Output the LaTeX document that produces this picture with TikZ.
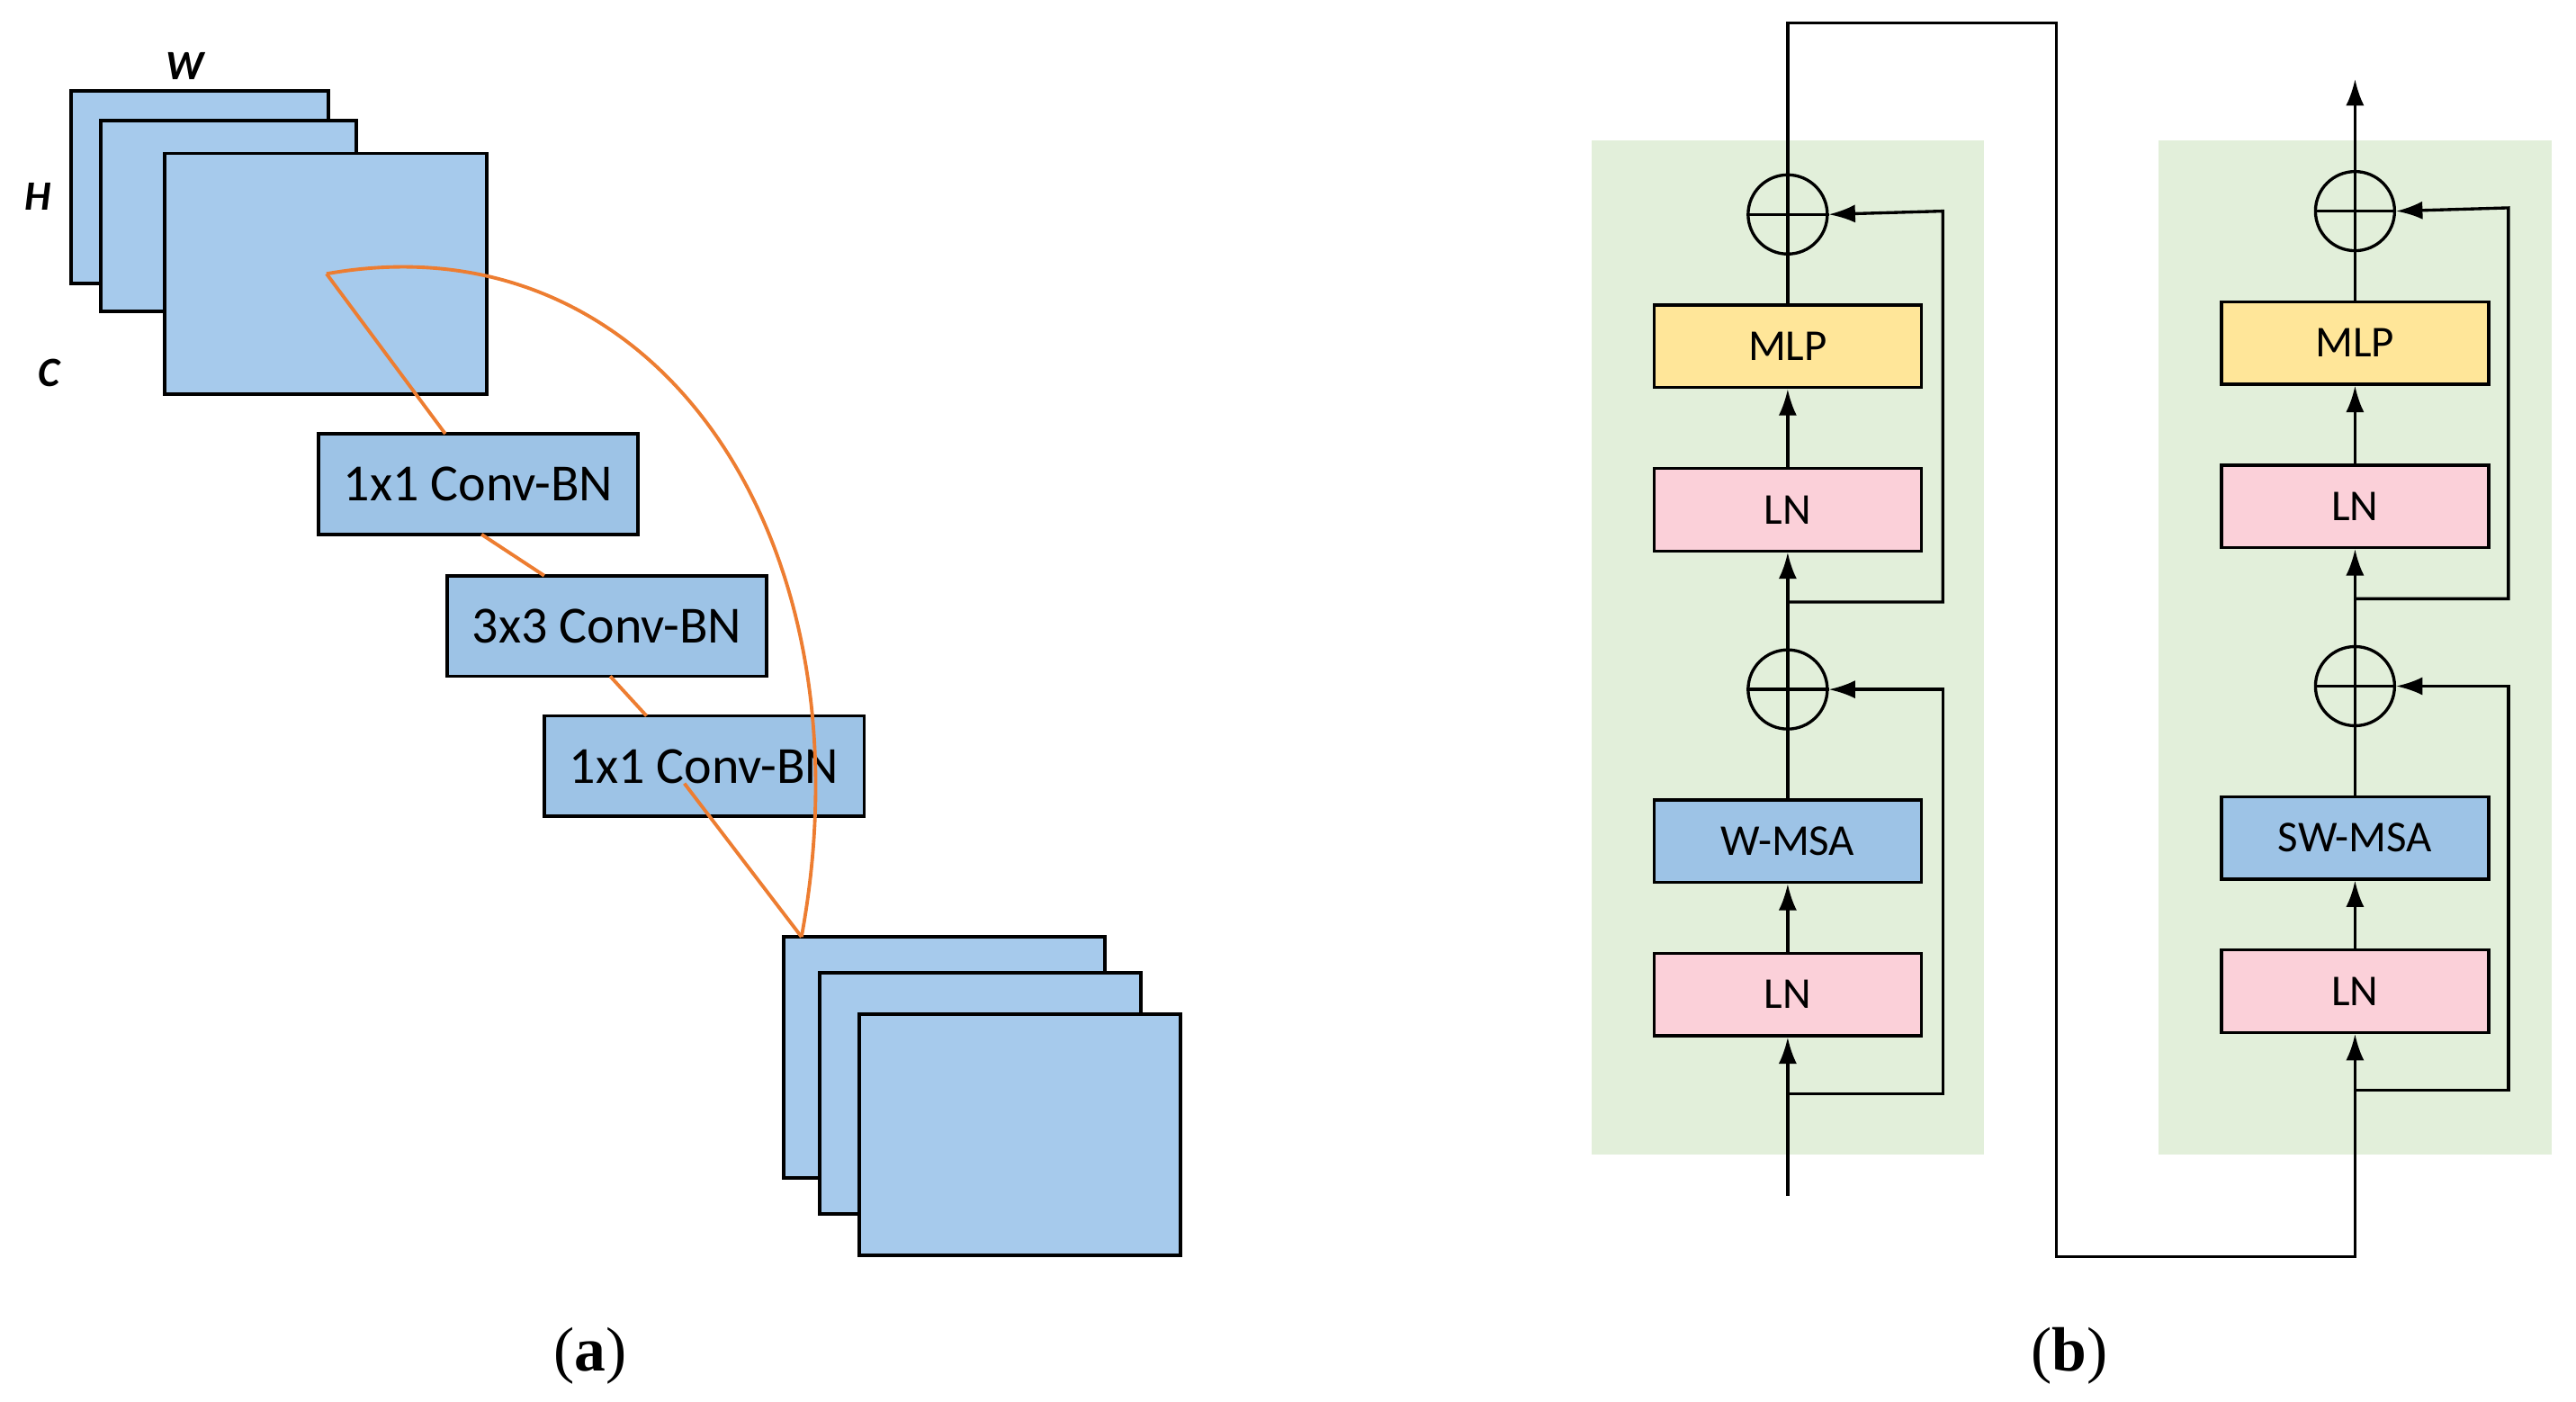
\documentclass[tikz,border=0pt]{standalone}
\usepackage{fontspec}
\setmainfont{Carlito}
\newfontfamily\serif{Liberation Serif}
\usetikzlibrary{arrows.meta}
\definecolor{bl}{HTML}{9DC3E6}
\definecolor{bl2}{HTML}{A6CAEC}
\definecolor{gr}{HTML}{E2EFDA}
\definecolor{pk}{HTML}{FBD0D9}
\definecolor{yl}{HTML}{FFE699}
\definecolor{or}{HTML}{ED7D31}
\begin{document}
\begin{tikzpicture}[x=0.05cm,y=-0.05cm,
 sheet/.style={draw=black,line width=3pt,fill=bl2},
 conv/.style={draw=black,line width=3pt,fill=bl,minimum width=9.7cm,minimum height=3.05cm,inner sep=0pt,font=\fontsize{45}{52}\selectfont},
 blk/.style={draw=black,line width=2.6pt,minimum width=8.1cm,minimum height=2.5cm,inner sep=0pt,font=\fontsize{38}{44}\selectfont},
 ol/.style={draw=or,line width=3pt},
 ln/.style={draw=black,line width=2.6pt},
 ar/.style={ln,-{Latex[length=0.8cm,width=0.55cm]}},
 add/.style={draw=black,line width=2.6pt,circle,minimum size=2.4cm,inner sep=0pt},
 lab/.style={font=\fontsize{36}{40}\selectfont\bfseries\itshape}]
\useasboundingbox (0,0) rectangle (1562,850);
% (a)
\draw[sheet] (43,55) rectangle (199,172);
\draw[sheet] (61,73) rectangle (216,189);
\draw[sheet] (100,93) rectangle (295,239);
\node[lab] (W) at (112,40) {W};
\node[lab] (H) at (23,119) {H};
\node[lab] (C) at (30,226) {C};
\node[conv] (c1) at (290,293.5) {1x1 Conv-BN};
\node[conv] (c2) at (368,379.5) {3x3 Conv-BN};
\node[conv] (c3) at (427,464.5) {1x1 Conv-BN};
\draw[sheet] (475,568) rectangle (670,714);
\draw[sheet] (497,590) rectangle (692,736);
\draw[sheet] (521,615) rectangle (716,761);
\coordinate (s) at (198,166);
\coordinate (e) at (486,568);
\draw[ol] (s) -- (270,263);
\draw[ol] (292,324) -- (330,349);
\draw[ol] (370,410) -- (392,434);
\draw[ol] (415,475) -- (e);
\draw[ol] (s) .. controls (400,130) and (530,330) .. (e);
\node[font=\fontsize{54}{60}\selectfont\serif] (la) at (358,822) {(\textbf{a})};
\node[font=\fontsize{54}{60}\selectfont\serif] (lb) at (1255,822) {(\textbf{b})};
% (b)
\fill[gr] (965,85) rectangle (1203,700);
\fill[gr] (1309,85) rectangle (1547,700);
\node[blk,fill=pk] (L1) at (1084,603) {LN};
\node[blk,fill=bl] (WM) at (1084,510) {W-MSA};
\node[add] (A1) at (1084,418) {};
\node[blk,fill=pk] (L2) at (1084,309) {LN};
\node[blk,fill=yl] (M1) at (1084,210) {MLP};
\node[add] (A2) at (1084,130) {};
\node[blk,fill=pk] (R1) at (1428,601) {LN};
\node[blk,fill=bl] (SW) at (1428,508) {SW-MSA};
\node[add] (B1) at (1428,416) {};
\node[blk,fill=pk] (R2) at (1428,307) {LN};
\node[blk,fill=yl] (M2) at (1428,208) {MLP};
\node[add] (B2) at (1428,128) {};
\foreach \a in {A1,A2,B1,B2}{\draw[ln] (\a.north)--(\a.south) (\a.west)--(\a.east);}
\coordinate (in) at (1084,725);
\draw[ar] (in) -- (L1.south);
\draw[ar] (L1) -- (WM);
\draw[ln] (WM) -- (A1);
\draw[ar] (A1) -- (L2);
\draw[ar] (L2) -- (M1);
\draw[ln] (M1) -- (A2);
\draw[ar] (1084,663) -- (1178,663) -- (1178,418) -- (A1.east);
\draw[ar] (1084,365) -- (1178,365) -- (1178,128) -- (A2.east);
\draw[ar] (A2.north) -- (1084,14) -- (1247,14) -- (1247,762) -- (1428,762) -- (R1.south);
\draw[ar] (R1) -- (SW);
\draw[ln] (SW) -- (B1);
\draw[ar] (B1) -- (R2);
\draw[ar] (R2) -- (M2);
\draw[ln] (M2) -- (B2);
\draw[ar] (1428,661) -- (1521,661) -- (1521,416) -- (B1.east);
\draw[ar] (1428,363) -- (1521,363) -- (1521,126) -- (B2.east);
\coordinate (out) at (1428,48);
\draw[ar] (B2.north) -- (out);
\end{tikzpicture}
\end{document}
